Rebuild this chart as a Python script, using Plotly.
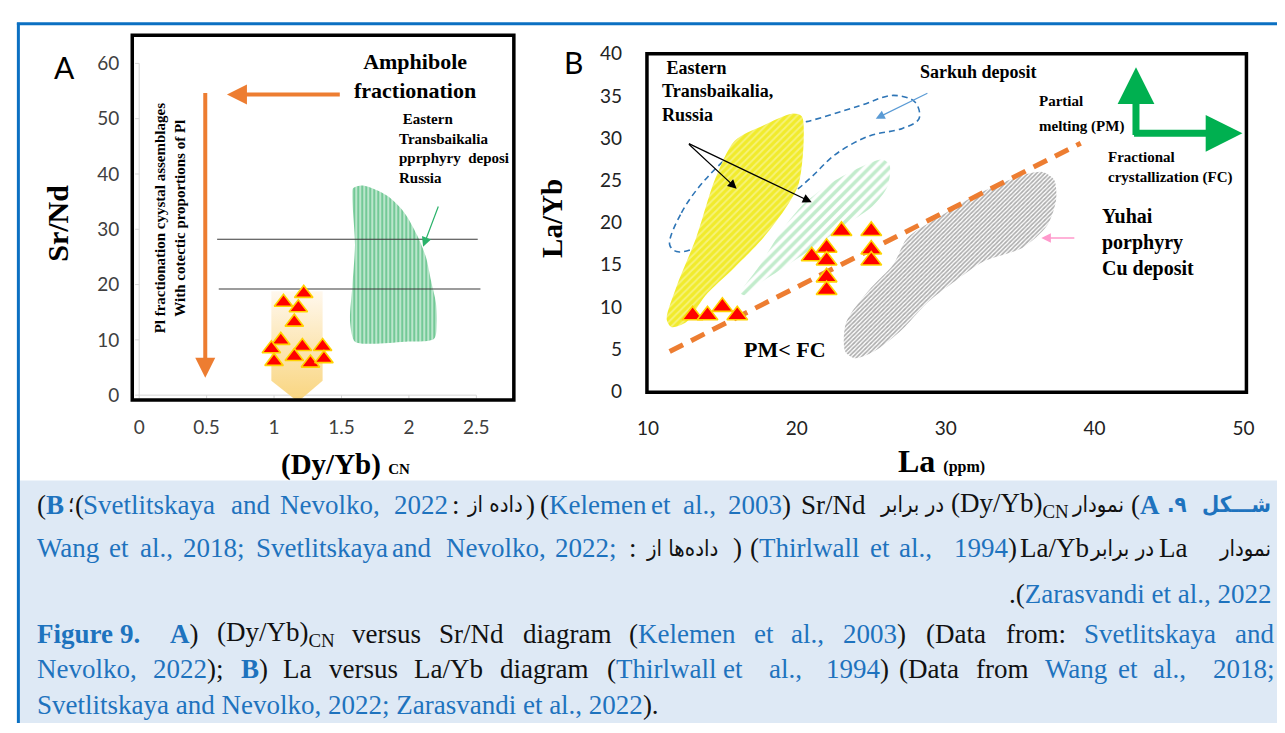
import plotly.graph_objects as go

W, H = 1285, 733
SERIF = "Liberation Serif"
SANS = "Lato"
ARABIC = "DejaVu Sans Condensed, DejaVu Sans"

# ---------------- Panel A : (Dy/Yb)CN vs Sr/Nd ----------------
a_xticks = [0, 0.5, 1, 1.5, 2, 2.5]
a_yticks = [0, 10, 20, 30, 40, 50, 60]

dyyb_samples = [1.22, 1.07, 1.18, 1.15, 1.05, 0.98, 1.21, 1.36, 1.00, 1.15, 1.27, 1.37]
srnd_samples = [18.4, 16.8, 15.8, 13.2, 9.9, 8.4, 8.8, 8.8, 6.1, 7.0, 5.8, 6.6]

# pale envelope behind the samples
envelope_x = [0.98, 1.36, 1.36, 1.177, 0.98, 0.98]
envelope_y = [18.8, 18.8, 2.6, -1.2, 2.6, 18.8]

# Eastern Transbaikalia porphyry field
transb_a_x = [1.586, 1.66, 1.842, 1.966, 2.06, 2.127, 2.164, 2.20, 2.207, 2.186,
              1.966, 1.725, 1.60, 1.564, 1.58, 1.60, 1.586, 1.58, 1.586]
transb_a_y = [37.4, 37.9, 36.0, 33.0, 28.95, 24.9, 20.7, 16.7, 13.2, 10.2,
              9.65, 9.3, 9.65, 13.2, 19.6, 27.2, 33.0, 36.0, 37.4]

upper_line_x = [0.578, 2.51]
upper_line_y = [28.2, 28.2]
lower_line_x = [0.59, 2.53]
lower_line_y = [19.2, 19.2]

# ---------------- Panel B : La vs La/Yb ----------------
b_xticks = [10, 20, 30, 40, 50]
b_yticks = [0, 5, 10, 15, 20, 25, 30, 35, 40]

la_samples = [13, 14, 15, 16, 21, 22, 22, 22, 22, 23, 25, 25, 25]
layb_samples = [9, 9, 10, 9, 16, 17, 15.5, 13.5, 12, 19, 19, 16.8, 15.5]

yellow_x = [20.33, 20.46, 20.13, 19.34, 17.75, 15.83, 13.84, 12.58, 11.59, 11.26,
            11.92, 13.24, 14.5, 15.83, 17.75, 19.67, 20.33]
yellow_y = [32.6, 29.7, 24.6, 21.95, 18.2, 14.7, 11.3, 8.2, 7.6, 8.5,
            12.4, 18.2, 25.1, 29.7, 31.5, 32.9, 32.6]

green_x = [16.23, 17.48, 19.0, 20.46, 22.12, 23.97, 25.76, 26.23, 26.09, 25.1,
           23.44, 21.59, 19.47, 17.48, 16.49, 16.23]
green_y = [11.61, 14.83, 19.08, 22.18, 24.48, 26.32, 27.47, 26.78, 24.25, 21.95,
           19.89, 17.59, 15.06, 12.76, 11.38, 11.61]

yuhai_x = [36.49, 37.28, 37.42, 36.82, 35.17, 32.58, 30.66, 28.74, 27.09, 25.17,
           23.91, 23.25, 23.31, 24.83, 26.49, 27.42, 29.4, 32.25, 34.83, 36.49]
yuhai_y = [25.98, 25.06, 22.76, 19.66, 17.01, 15.4, 13.1, 10.46, 7.36, 4.71,
           3.91, 4.71, 8.16, 11.95, 15.06, 18.16, 20.46, 23.45, 25.4, 25.98]

sarkuh_x = [11.46, 12.25, 13.84, 16.16, 18.81, 20.66, 24.17, 26.49, 27.95, 28.21,
            27.09, 24.83, 22.58, 20.99, 19.67, 17.48, 14.83, 12.91, 11.92, 11.46]
sarkuh_y = [17.36, 21.15, 25.06, 28.85, 31.38, 31.95, 33.8, 35.06, 34.25, 32.3,
            31.15, 30.23, 28.05, 25.4, 23.45, 21.4, 18.5, 16.8, 16.55, 17.36]

trend_x = [11.46, 39.07]
trend_y = [4.71, 29.4]


def px(x):
    return x / W


def py(y):
    return 1 - y / H


fig = go.Figure()

# ---- Panel A traces ----
fig.add_trace(go.Scatter(
    x=envelope_x, y=envelope_y, xaxis="x", yaxis="y", mode="lines", fill="toself",
    line=dict(width=0),
    fillgradient=dict(type="vertical",
                      colorscale=[[0, "#f9d57f"], [0.5, "#fce6b4"], [1, "#fff8ee"]]),
    hoverinfo="skip"))
fig.add_trace(go.Scatter(
    x=transb_a_x, y=transb_a_y, xaxis="x", yaxis="y", mode="lines", fill="toself",
    line=dict(width=0, shape="spline", smoothing=0.8),
    fillpattern=dict(shape="|", fgcolor="#1fa657", bgcolor="#c8ecd6", size=4, solidity=0.58),
    hoverinfo="skip"))
for lx, ly in ((upper_line_x, upper_line_y), (lower_line_x, lower_line_y)):
    fig.add_trace(go.Scatter(x=lx, y=ly, xaxis="x", yaxis="y", mode="lines",
                             line=dict(color="#3a3a3a", width=1.2), hoverinfo="skip"))
fig.add_trace(go.Scatter(
    x=dyyb_samples, y=srnd_samples, xaxis="x", yaxis="y", mode="markers",
    marker=dict(symbol="triangle-up", size=16, color="#ff0000",
                line=dict(color="#ffd200", width=1.6))))

# ---- Panel B traces ----
fig.add_trace(go.Scatter(
    x=sarkuh_x, y=sarkuh_y, xaxis="x2", yaxis="y2", mode="lines",
    line=dict(color="#2e75b6", width=1.6, dash="6px,4px", shape="spline", smoothing=1),
    hoverinfo="skip"))
fig.add_trace(go.Scatter(
    x=yellow_x, y=yellow_y, xaxis="x2", yaxis="y2", mode="lines", fill="toself",
    line=dict(width=0, shape="spline", smoothing=0.8),
    fillpattern=dict(shape="/", fgcolor="#fbf9c8", bgcolor="#f1eb2c", size=5, solidity=0.35),
    hoverinfo="skip"))
fig.add_trace(go.Scatter(
    x=green_x, y=green_y, xaxis="x2", yaxis="y2", mode="lines", fill="toself",
    line=dict(width=0, shape="spline", smoothing=0.8),
    fillpattern=dict(shape="/", fgcolor="#86d99a", bgcolor="#ffffff", size=7, solidity=0.5),
    hoverinfo="skip"))
fig.add_trace(go.Scatter(
    x=yuhai_x, y=yuhai_y, xaxis="x2", yaxis="y2", mode="lines", fill="toself",
    line=dict(width=0, shape="spline", smoothing=0.8),
    fillpattern=dict(shape="/", fgcolor="#5c5c5c", bgcolor="#ffffff", size=3, solidity=0.55),
    hoverinfo="skip"))
fig.add_trace(go.Scatter(
    x=trend_x, y=trend_y, xaxis="x2", yaxis="y2", mode="lines",
    line=dict(color="#ed7d31", width=5, dash="15px,9px"), hoverinfo="skip"))
fig.add_trace(go.Scatter(
    x=la_samples, y=layb_samples, xaxis="x2", yaxis="y2", mode="markers",
    marker=dict(symbol="triangle-up", size=18, color="#ff0000",
                line=dict(color="#ffd200", width=1.6))))

# ---- shapes: frames, light axis lines, caption panel ----
shapes = [
    dict(type="rect", xref="paper", yref="paper", x0=px(10), x1=1, y0=0, y1=py(483),
         fillcolor="#dee9f5", line=dict(width=0), layer="below"),
    dict(type="line", xref="paper", yref="paper", x0=px(7), x1=1, y0=py(12), y1=py(12),
         line=dict(color="#0b70c2", width=3)),
    dict(type="line", xref="paper", yref="paper", x0=px(8.5), x1=px(8.5), y0=0, y1=py(11),
         line=dict(color="#0b70c2", width=3)),
    dict(type="rect", xref="paper", yref="paper", x0=px(124), x1=px(511), y0=py(400), y1=py(24),
         line=dict(color="black", width=3.5)),
    dict(type="rect", xref="paper", yref="paper", x0=px(646), x1=px(1254), y0=py(392), y1=py(43),
         line=dict(color="black", width=3.5)),
    dict(type="line", xref="x", yref="y", x0=0, x1=0, y0=0, y1=60,
         line=dict(color="#d6d6d6", width=1), layer="below"),
    dict(type="line", xref="x", yref="y", x0=0, x1=2.5, y0=0, y1=0,
         line=dict(color="#d6d6d6", width=1), layer="below"),
]
for t in a_xticks:
    shapes.append(dict(type="line", xref="x", yref="y", x0=t, x1=t, y0=0, y1=-0.6,
                       line=dict(color="#d6d6d6", width=1), layer="below"))
for t in a_yticks:
    shapes.append(dict(type="line", xref="x", yref="y", x0=0, x1=-0.03, y0=t, y1=t,
                       line=dict(color="#d6d6d6", width=1), layer="below"))


def note(x, y, text, size, family=SERIF, color="black", xanchor="center",
         yanchor="middle", angle=0, align="center"):
    return dict(xref="paper", yref="paper", x=px(x), y=py(y), text=text, showarrow=False,
                font=dict(family=family, size=size, color=color), xanchor=xanchor,
                yanchor=yanchor, textangle=angle, align=align)


def arrow(xr, yr, x, y, ax, ay, color, width, head=2, size=1.0):
    return dict(xref=xr, yref=yr, axref=xr, ayref=yr, x=x, y=y, ax=ax, ay=ay, text="",
                showarrow=True, arrowhead=head, arrowsize=size, arrowwidth=width,
                arrowcolor=color)


ann = [
    # panel A
    note(55, 57, "A", 30, family=SANS),
    note(411, 66, "<b>Amphibole<br>fractionation</b>", 22),
    note(162, 212, "<b>Pl fractionation cyystal assemblages<br>With cotectic proportions of Pl</b>",
         15, angle=-90),
    note(393, 141, "<b>&nbsp;Eastern<br>Transbaikalia<br>pprphyry&nbsp; deposi<br>Russia</b>",
         15, xanchor="left", align="left"),
    note(48, 218, "<b>Sr/Nd</b>", 30, angle=-90),
    note(340, 467, "<b>(Dy/Yb) <span style='font-size:15px'>CN</span></b>", 29),
    arrow("x", "y", 0.6506, 54.39, 1.4985, 54.39, "#ed7d31", 4, 2, 1.0),
    arrow("x", "y", 0.49, 3.16, 0.49, 54.9, "#ed7d31", 4, 2, 1.0),
    arrow("x", "y", 2.105, 26.84, 2.222, 34.39, "#2ab26a", 1.2, 2, 1.6),
    # panel B
    note(571, 52, "B", 30, family=SANS),
    note(549, 213, "<b>La/Yb</b>", 29, angle=-90),
    note(945, 463, "<b>La <span style='font-size:16px'>(ppm)</span></b>", 32),
    note(659, 82, "<b>&nbsp;Eastern<br>Transbaikalia,<br>Russia</b>", 18,
         xanchor="left", align="left"),
    note(982, 62, "<b>Sarkuh deposit</b>", 18),
    note(1042, 92, "<b>Partial</b>", 15, xanchor="left"),
    note(1042, 118, "<b>melting (PM)</b>", 15, xanchor="left"),
    note(1112, 160, "<b>Fractional<br>crystallization (FC)</b>", 15, xanchor="left", align="left"),
    note(1105, 238, "<b>Yuhai<br>porphyry<br>Cu deposit</b>", 20, xanchor="left", align="left"),
    note(786, 348, "<b>PM&lt; FC</b>", 22),
    arrow("x2", "y2", 15.96, 24.0, 12.65, 29.43, "black", 1.2, 2, 1.5),
    arrow("x2", "y2", 21.0, 22.4, 12.65, 29.43, "black", 1.2, 2, 1.5),
    arrow("x2", "y2", 25.3, 32.3, 28.87, 35.4, "#5b9bd5", 1.2, 2, 1.5),
    arrow("x2", "y2", 36.42, 18.16, 38.74, 18.16, "#ff99cc", 1.6, 2, 1.2),
    arrow("x2", "y2", 42.78, 38.39, 42.78, 30.2, "#00b050", 7, 2, 1.05),
    arrow("x2", "y2", 49.93, 30.57, 42.55, 30.57, "#00b050", 7, 2, 1.05),
]

# ---------------- caption ----------------
BLUE = "#1e73be"
INK = "#111111"
CAP = 27
FA = 22


def bl(s):
    return f"<span style='color:{BLUE}'>{s}</span>"


def bb(s):
    return f"<b><span style='color:{BLUE}'>{s}</span></b>"


# Persian caption, typeset run by run: (x, text, anchor side, font)
fa_rows = [
    (508, [
        (25, "(" + bb("B"), "l", SERIF), (57, "؛", "l", ARABIC), (64, "(", "l", SERIF),
        (72, bl("Svetlitskaya"), "l", SERIF), (222, bl("and"), "l", SERIF),
        (272, bl("Nevolko,"), "l", SERIF), (387, bl("2022"), "l", SERIF),
        (446, ":", "l", SERIF), (492, "داده از", "c", ARABIC), (521, ")", "l", SERIF),
        (535, "(" + bl("Kelemen"), "l", SERIF), (648, bl("et"), "l", SERIF),
        (681, bl("al.,"), "l", SERIF), (726, bl("2003") + ")", "l", SERIF),
        (800, "Sr/Nd", "l", SERIF), (915, "در برابر", "c", ARABIC),
        (952, "(Dy/Yb)<sub>CN</sub>", "l", SERIF), (1103, "نمودار", "c", ARABIC),
        (1135, "(" + bb("A"), "l", SERIF), (1196, bb(".۹"), "r", ARABIC),
        (1281, bb("شـــکل"), "r", ARABIC),
    ]),
    (553, [
        (25, bl("Wang"), "l", SERIF), (98, bl("et"), "l", SERIF), (130, bl("al.,"), "l", SERIF),
        (173, bl("2018;"), "l", SERIF), (247, bl("Svetlitskaya"), "l", SERIF),
        (385, bl("and"), "l", SERIF), (440, bl("Nevolko,"), "l", SERIF),
        (551, bl("2022;"), "l", SERIF), (626, ":", "l", SERIF),
        (682, "داده‌ها از", "c", ARABIC), (731, ")", "l", SERIF),
        (748, "(" + bl("Thirlwall"), "l", SERIF), (870, bl("et"), "l", SERIF),
        (900, bl("al.,"), "l", SERIF), (955, bl("1994") + ")", "l", SERIF),
        (1022, "La/Yb", "l", SERIF), (1128, "در برابر", "c", ARABIC),
        (1163, "La", "l", SERIF), (1281, "نمودار", "r", ARABIC),
    ]),
    (600, [
        (1281, ".(" + bl("Zarasvandi et al., 2022"), "r", SERIF),
    ]),
]
side_anchor = {"l": "left", "r": "right", "c": "center"}
for y, runs in fa_rows:
    for x, t, side, fam in runs:
        ann.append(note(x, y, t, FA if fam == ARABIC else CAP, family=fam, color=INK,
                        xanchor=side_anchor[side]))

en_line1 = [
    (25, bb("Figure")), (110, bb("9.")), (160, bb("A") + ")"),
    (208, "(Dy/Yb)<sub>CN</sub>"), (345, "versus"), (433, "Sr/Nd"), (518, "diagram"),
    (626, "(" + bl("Kelemen")), (753, bl("et")), (790, bl("al.,")), (843, bl("2003") + ")"),
    (927, "(Data"), (1008, "from:"), (1087, bl("Svetlitskaya")), (1240, bl("and")),
]
en_line2 = [
    (25, bl("Nevolko,")), (143, bl("2022") + ");"), (232, bb("B") + ")"), (275, "La"),
    (322, "versus"), (408, "La/Yb"), (495, "diagram"), (603, "(" + bl("Thirlwall")),
    (721, bl("et")), (768, bl("al.,")), (826, bl("1994") + ")"), (900, "(Data"),
    (978, "from"), (1048, bl("Wang")), (1122, bl("et")), (1157, bl("al.,")), (1218, bl("2018;")),
]
for y, words in ((641, en_line1), (677, en_line2)):
    for x, t in words:
        ann.append(note(x, y, t, CAP, color=INK, xanchor="left"))
ann.append(note(25, 714, bl("Svetlitskaya and Nevolko, 2022; Zarasvandi et al., 2022") + ").",
                CAP, color=INK, xanchor="left"))

axis_common = dict(showgrid=False, zeroline=False, showline=False, ticks="")

fig.update_layout(
    width=W, height=H, autosize=False,
    margin=dict(l=0, r=0, t=0, b=0),
    paper_bgcolor="white", plot_bgcolor="rgba(0,0,0,0)",
    showlegend=False,
    xaxis=dict(domain=[px(124), px(511)], range=[-0.0512, 2.7778], anchor="y",
               tickvals=a_xticks, ticklabelstandoff=14,
               tickfont=dict(family=SANS, size=19, color="#404040"), **axis_common),
    yaxis=dict(domain=[py(400), py(24)], range=[-0.877, 65.088], anchor="x",
               tickvals=a_yticks, ticklabelstandoff=12,
               tickfont=dict(family=SANS, size=19, color="#404040"), **axis_common),
    xaxis2=dict(domain=[px(646), px(1254)], range=[9.934, 50.199], anchor="y2",
                tickvals=b_xticks, ticklabelstandoff=23,
                tickfont=dict(family=SANS, size=19, color="#222222"), **axis_common),
    yaxis2=dict(domain=[py(392), py(43)], range=[-0.115, 40.0], anchor="x2",
                tickvals=b_yticks, ticklabelstandoff=24,
                tickfont=dict(family=SANS, size=19, color="#222222"), **axis_common),
    shapes=shapes,
    annotations=ann,
)

fig.write_html("out.html")
